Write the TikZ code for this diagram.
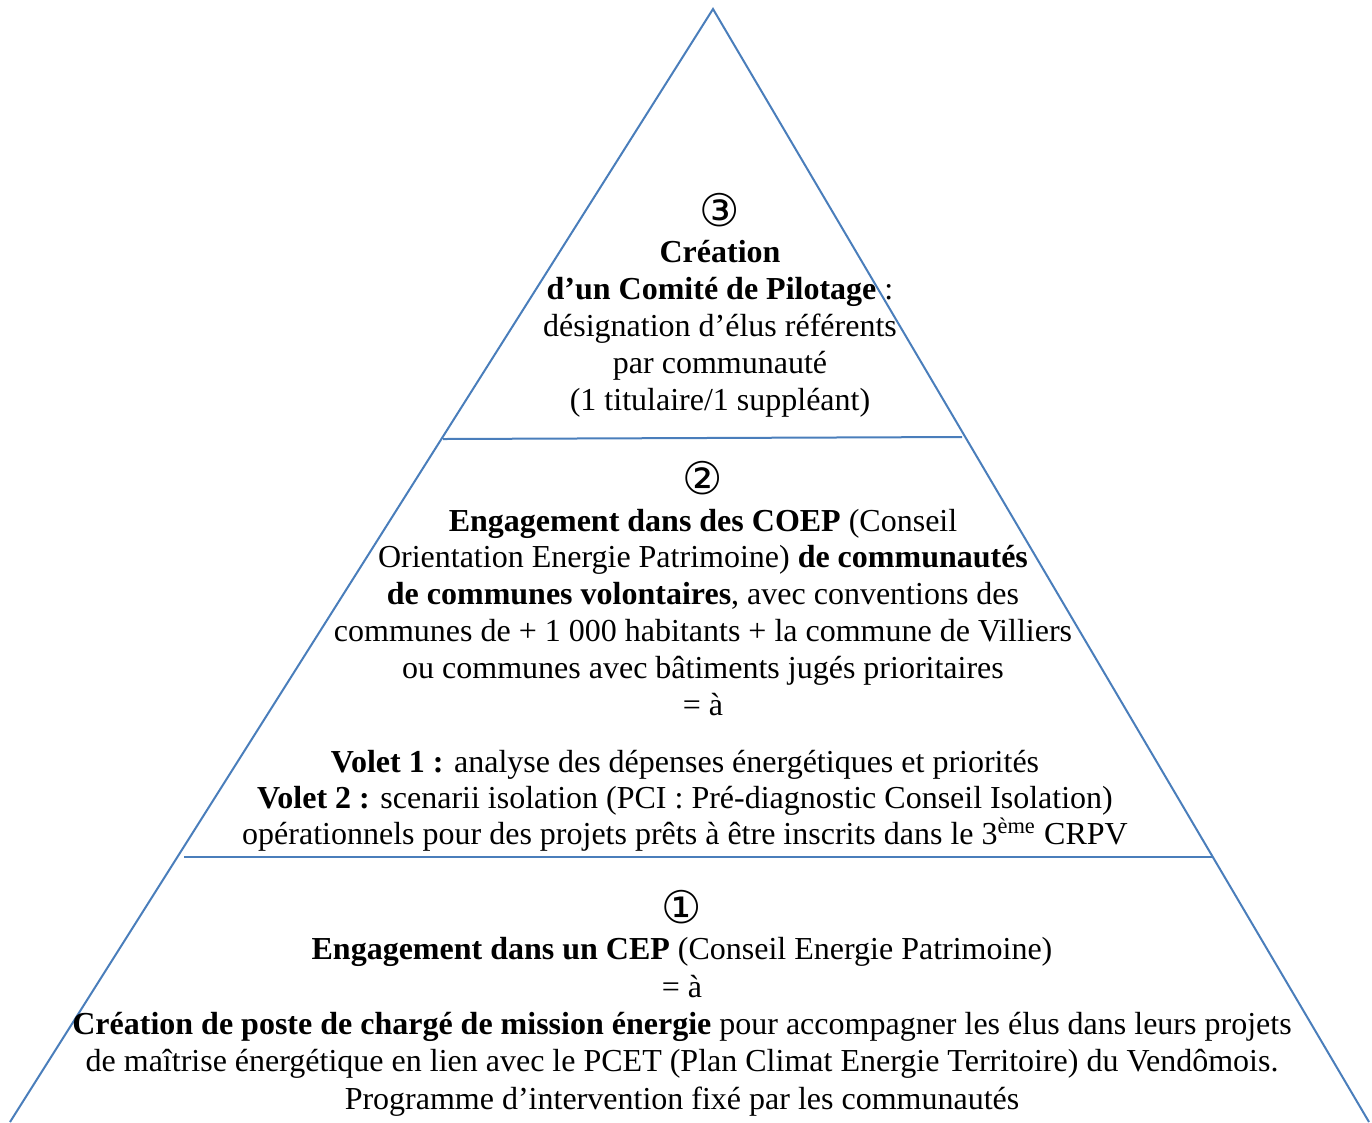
\documentclass[tikz,border=0pt]{standalone}
\usepackage{fontspec}
\setmainfont{Liberation Serif}
\newfontfamily\symfont{DejaVu Sans}
\definecolor{pyrblue}{HTML}{4A7EBB}
\begin{document}
\begin{tikzpicture}[x=0.4pt,y=-0.4pt,
  edge/.style={draw=pyrblue,line width=0.8pt},
  txt/.style={inner sep=0pt,anchor=base,font=\fontsize{12.8}{15}\selectfont},
  num/.style={inner sep=0pt,anchor=center,font=\symfont\fontsize{18}{18}\selectfont}]
\useasboundingbox (0,0) rectangle (1372,1122);
\coordinate (apex) at (713,9);
\coordinate (bl) at (10,1122);
\coordinate (br) at (1369,1122);
\coordinate (l1a) at (443,439);
\coordinate (l1b) at (962,437);
\coordinate (l2a) at (184,857);
\coordinate (l2b) at (1212,857);
\draw[edge] (bl) -- (apex) -- (br);
\draw[edge] (l1a) -- (l1b);
\draw[edge] (l2a) -- (l2b);
% section 3
\node[num] (n3) at (720,210) {③};
\node[txt] (a1) at (720,262) {\textbf{Création}};
\node[txt] (a2) at (720,299) {\textbf{d’un Comité de Pilotage} :};
\node[txt] (a3) at (720,336) {désignation d’élus référents};
\node[txt] (a4) at (720,373) {par communauté};
\node[txt] (a5) at (720,410) {(1 titulaire/1 suppléant)};
% section 2
\node[num] (n2) at (703,478) {②};
\node[txt] (b1) at (703,531) {\textbf{Engagement dans des COEP} (Conseil};
\node[txt] (b2) at (703,567) {Orientation Energie Patrimoine) \textbf{de communautés}};
\node[txt] (b3) at (703,604) {\textbf{de communes volontaires}, avec conventions des};
\node[txt] (b4) at (703,641) {communes de + 1 000 habitants + la commune de Villiers};
\node[txt] (b5) at (703,678) {ou communes avec bâtiments jugés prioritaires};
\node[txt] (b6) at (703,715) {= à};
\node[txt] (b7) at (685,772) {\textbf{Volet 1 :} analyse des dépenses énergétiques et priorités};
\node[txt] (b8) at (685,808) {\textbf{Volet 2 :} scenarii isolation (PCI : Pré-diagnostic Conseil Isolation)};
\node[txt] (b9) at (685,844) {opérationnels pour des projets prêts à être inscrits dans le 3\textsuperscript{ème} CRPV};
% section 1
\node[num] (n1) at (682,907) {①};
\node[txt] (c1) at (682,959) {\textbf{Engagement dans un CEP} (Conseil Energie Patrimoine)};
\node[txt] (c2) at (682,997) {= à};
\node[txt] (c3) at (682,1034) {\textbf{Création de poste de chargé de mission énergie} pour accompagner les élus dans leurs projets};
\node[txt] (c4) at (682,1071) {de maîtrise énergétique en lien avec le PCET (Plan Climat Energie Territoire) du Vendômois.};
\node[txt] (c5) at (682,1109) {Programme d’intervention fixé par les communautés};
\end{tikzpicture}
\end{document}
